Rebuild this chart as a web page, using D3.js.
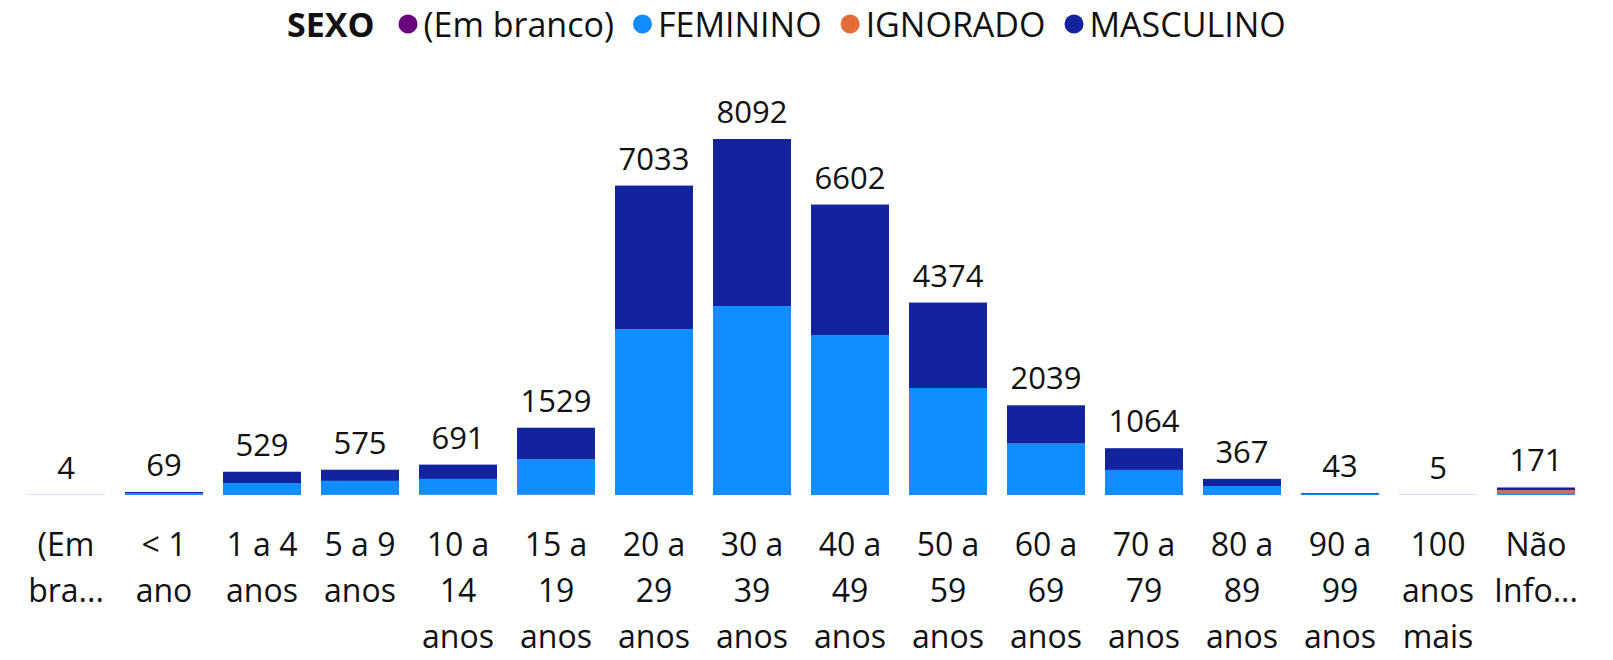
<!DOCTYPE html>
<html>
<head>
<meta charset="utf-8">
<script src="https://cdn.jsdelivr.net/npm/d3@7"></script>
<style>
  body { margin: 0; background: white; }
  svg { display: block; font-family: "Segoe UI", "Open Sans", sans-serif; }
</style>
</head>
<body>
<svg id="chart" width="1613" height="660"></svg>
<script>
// age groups (x axis)
const categories = ["(Em branco)", "< 1 ano", "1 a 4 anos", "5 a 9 anos", "10 a 14 anos",
  "15 a 19 anos", "20 a 29 anos", "30 a 39 anos", "40 a 49 anos", "50 a 59 anos",
  "60 a 69 anos", "70 a 79 anos", "80 a 89 anos", "90 a 99 anos", "100 anos mais", "Não Informado"];

// wrapped tick labels as shown under each bar
const tickLines = [["(Em", "bra..."], ["< 1", "ano"], ["1 a 4", "anos"], ["5 a 9", "anos"],
  ["10 a", "14", "anos"], ["15 a", "19", "anos"], ["20 a", "29", "anos"], ["30 a", "39", "anos"],
  ["40 a", "49", "anos"], ["50 a", "59", "anos"], ["60 a", "69", "anos"], ["70 a", "79", "anos"],
  ["80 a", "89", "anos"], ["90 a", "99", "anos"], ["100", "anos", "mais"], ["Não", "Info..."]];

// series (SEXO)
const seriesNames = ["(Em branco)", "FEMININO", "IGNORADO", "MASCULINO"];
const emBranco  = [0, 0, 0, 3, 4, 10, 0, 0, 0, 0, 0, 0, 0, 0, 0, 0];
const feminino  = [2, 36, 272, 318, 362, 800, 3770, 4296, 3637, 2432, 1170, 570, 205, 25, 3, 43];
const ignorado  = [0, 0, 0, 0, 0, 0, 0, 0, 0, 0, 0, 0, 0, 0, 0, 68];
const masculino = [2, 33, 257, 254, 325, 719, 3263, 3796, 2965, 1942, 869, 494, 162, 18, 2, 60];

const svg = d3.select("svg#chart");

const color = d3.scaleOrdinal()
  .domain(seriesNames)
  .range(["#6B007B", "#118DFF", "#E66C37", "#12239E"]);

// build rows for the stack layout
const rows = categories.map(function(c, i) {
  return {
    category: c,
    "(Em branco)": emBranco[i],
    "FEMININO": feminino[i],
    "IGNORADO": ignorado[i],
    "MASCULINO": masculino[i]
  };
});
rows.forEach(d => d.total = d3.sum(seriesNames, k => d[k]));

const stacked = d3.stack().keys(seriesNames)(rows);

const x = d3.scaleBand()
  .domain(categories)
  .range([17.2, 1584.8])
  .paddingInner(0.204)
  .paddingOuter(0.1);

const y = d3.scaleLinear()
  .domain([0, d3.max(rows, d => d.total)])
  .range([495, 139]);

// bars
svg.append("g").attr("id", "bars")
  .selectAll("g")
  .data(stacked)
  .join("g")
  .attr("fill", d => color(d.key))
  .selectAll("rect")
  .data(d => d)
  .join("rect")
  .attr("x", d => x(d.data.category))
  .attr("width", x.bandwidth())
  .attr("y", d => y(d[1]))
  .attr("height", d => y(d[0]) - y(d[1]));

// total labels
svg.append("g").attr("id", "totals")
  .selectAll("text")
  .data(rows)
  .join("text")
  .attr("x", d => x(d.category) + x.bandwidth() / 2)
  .attr("y", d => y(d.total) - 16)
  .attr("text-anchor", "middle")
  .style("font-size", "31px")
  .style("fill", "#111")
  .text(d => d.total);

// x axis labels (no axis line)
const xAxis = svg.append("g").attr("id", "x-axis");
const ticks = xAxis.selectAll("text")
  .data(categories)
  .join("text")
  .attr("x", d => x(d) + x.bandwidth() / 2)
  .attr("y", 556)
  .attr("text-anchor", "middle")
  .style("font-size", "32px")
  .style("fill", "#111");

ticks.each(function(d, i) {
  const t = d3.select(this);
  tickLines[i].forEach(function(line, j) {
    t.append("tspan")
      .attr("x", x(d) + x.bandwidth() / 2)
      .attr("dy", j === 0 ? 0 : 46)
      .text(line);
  });
});

// legend
const legend = svg.append("g").attr("id", "legend");
let lx = 287;
const ly = 37;

const title = legend.append("text")
  .attr("x", lx)
  .attr("y", ly)
  .style("font-size", "34px")
  .style("font-weight", "bold")
  .style("fill", "#111")
  .text("SEXO");
lx += title.node().getComputedTextLength() + 24;

seriesNames.forEach(function(name) {
  legend.append("circle")
    .attr("cx", lx + 9.5)
    .attr("cy", 24)
    .attr("r", 9.5)
    .attr("fill", color(name));
  const label = legend.append("text")
    .attr("x", lx + 25)
    .attr("y", ly)
    .style("font-size", "34px")
    .style("fill", "#111")
    .text(name);
  lx += 25 + label.node().getComputedTextLength() + 19;
});
</script>
</body>
</html>
